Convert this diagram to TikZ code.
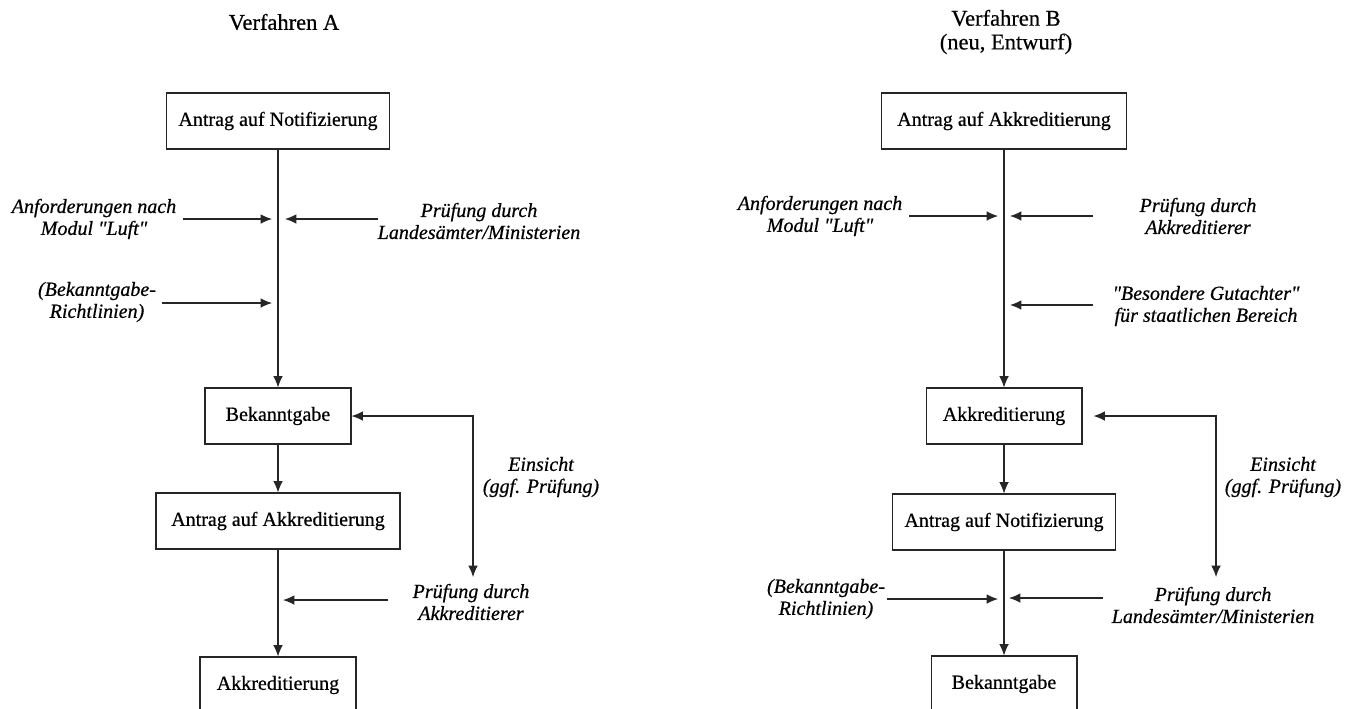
\documentclass[tikz,border=0pt]{standalone}
\usepackage{fontspec}
\setmainfont{Liberation Serif}[Ligatures=TeXOff,FakeBold=0.6]
\usetikzlibrary{arrows.meta}

\begin{document}
\begin{tikzpicture}[x=0.02cm,y=-0.02cm,
  box/.style={draw=black!85,line width=0.6pt,minimum height=1.12cm,inner sep=0pt,font=\fontsize{11.4}{12.5}\selectfont},
  lab/.style={align=center,inner sep=0pt,font=\fontsize{11.4}{12.5}\selectfont\itshape},
  titel/.style={align=center,inner sep=0pt,font=\fontsize{12.8}{13.5}\selectfont},
  flow/.style={draw=black!85,line width=0.6pt,-{Latex[length=6.5pt,width=5.5pt]}},
  both/.style={draw=black!85,line width=0.6pt,{Latex[length=6.5pt,width=5.5pt]}-{Latex[length=6.5pt,width=5.5pt]}}]
\path[use as bounding box] (0,0) rectangle (1354,708);

% Verfahren A
\node[titel] (titA) at (284,22) {Verfahren A};
\node[box,minimum width=4.46cm] (notA) at (278,121) {Antrag auf Notifizierung};
\node[box,minimum width=2.92cm] (bekA) at (278,416) {Bekanntgabe};
\node[box,minimum width=4.88cm] (antA) at (278,521) {Antrag auf Akkreditierung};
\node[box,minimum width=3.12cm] (akkA) at (278,685) {Akkreditierung};
\draw[flow] (notA) -- (bekA);
\draw[flow] (bekA) -- (antA);
\draw[flow] (antA) -- (akkA);

\node[lab] (anfA) at (94,219) {Anforderungen nach\\Modul "Luft"};
\coordinate (anfAs) at (183,219);
\coordinate (anfAe) at (272,219);
\draw[flow] (anfAs) -- (anfAe);
\node[lab] (pruefA) at (479,221) {Prüfung durch\\Landesämter/Ministerien};
\coordinate (pruefAs) at (378,219);
\coordinate (pruefAe) at (285,219);
\draw[flow] (pruefAs) -- (pruefAe);
\node[lab] (richtA) at (97,302) {(Bekanntgabe-\\Richtlinien)};
\coordinate (richtAs) at (162,303);
\coordinate (richtAe) at (272,303);
\draw[flow] (richtAs) -- (richtAe);
\node[lab] (akkrA) at (471,602) {Prüfung durch\\Akkreditierer};
\coordinate (akkrAs) at (388,600);
\coordinate (akkrAe) at (283,600);
\draw[flow] (akkrAs) -- (akkrAe);

\node[lab] (einsA) at (541,477) {Einsicht\\(ggf. Prüfung)};
\coordinate (einA) at (473,577);
\draw[both] (einA) |- (bekA.east);

% Verfahren B
\node[titel] (titB) at (1006,32) {Verfahren B\\(neu, Entwurf)};
\node[box,minimum width=4.9cm] (antB) at (1004,121) {Antrag auf Akkreditierung};
\node[box,minimum width=3.12cm] (akkB) at (1004,416) {Akkreditierung};
\node[box,minimum width=4.46cm] (notB) at (1004,522) {Antrag auf Notifizierung};
\node[box,minimum width=2.92cm] (bekB) at (1004,684) {Bekanntgabe};
\draw[flow] (antB) -- (akkB);
\draw[flow] (akkB) -- (notB);
\draw[flow] (notB) -- (bekB);

\node[lab] (anfB) at (820,216) {Anforderungen nach\\Modul "Luft"};
\coordinate (anfBs) at (909,216);
\coordinate (anfBe) at (998,216);
\draw[flow] (anfBs) -- (anfBe);
\node[lab] (akkrB) at (1198,216) {Prüfung durch\\Akkreditierer};
\coordinate (akkrBs) at (1093,216);
\coordinate (akkrBe) at (1010,216);
\draw[flow] (akkrBs) -- (akkrBe);
\node[lab] (gutB) at (1206,306) {"Besondere Gutachter"\\für staatlichen Bereich};
\coordinate (gutBs) at (1093,305);
\coordinate (gutBe) at (1010,305);
\draw[flow] (gutBs) -- (gutBe);
\node[lab] (richtB) at (826,599) {(Bekanntgabe-\\Richtlinien)};
\coordinate (richtBs) at (887,599);
\coordinate (richtBe) at (998,599);
\draw[flow] (richtBs) -- (richtBe);
\node[lab] (pruefB) at (1213,605) {Prüfung durch\\Landesämter/Ministerien};
\coordinate (pruefBs) at (1103,598);
\coordinate (pruefBe) at (1009,598);
\draw[flow] (pruefBs) -- (pruefBe);

\node[lab] (einsB) at (1283,477) {Einsicht\\(ggf. Prüfung)};
\coordinate (einB) at (1216,577);
\draw[both,shorten >=0.22cm] (einB) |- (akkB.east);
\end{tikzpicture}
\end{document}
